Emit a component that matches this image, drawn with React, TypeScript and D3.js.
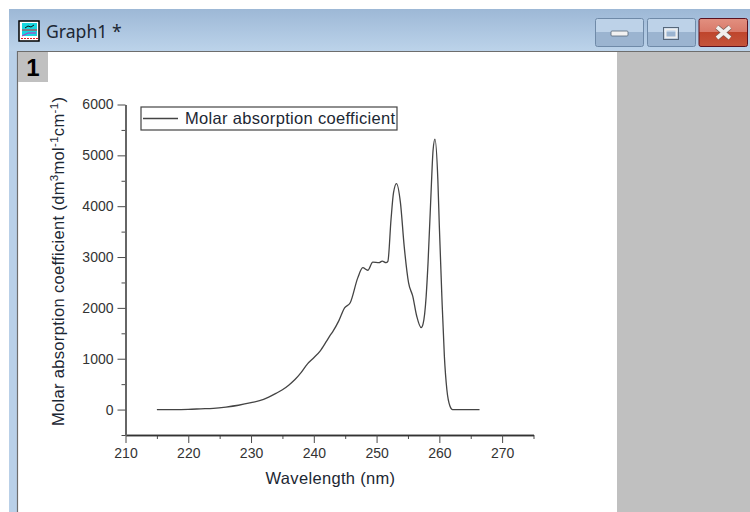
import React, {useEffect, useRef} from 'react'
import * as d3 from 'd3'

const wavelengths = [
  215, 218, 220, 222, 224, 226, 228, 230, 232, 234, 235, 236, 237, 238, 239, 240, 241, 242, 242.5,
  243, 244, 244.9, 245.8, 247, 247.8, 248.6, 249.4, 250.4, 250.9, 251.5, 251.8, 252.3, 252.7,
  253.17, 253.8, 254.4, 255.1, 255.76, 256.4, 257.1, 257.4, 257.9, 258.2, 258.7, 259, 259.3,
  259.76, 260, 260.4, 260.8, 261.2, 261.7, 262.1, 263, 266.4,
]
const absorption = [
  0, 0, 5, 15, 25, 50, 85, 135, 200, 320, 390, 480, 590, 730, 900, 1020, 1150, 1340, 1440,
  1530, 1750, 2000, 2100, 2590, 2790, 2740, 2900, 2890, 2920, 2890, 2917, 3738, 4265,
  4445, 4070, 3210, 2490, 2230, 1835, 1610, 1680, 2230, 2890, 4330, 5100, 5320,
  4525, 3600, 2230, 1050, 390, 65, 0, 0, 0,
]
const xMajor = [210, 220, 230, 240, 250, 260, 270]
const xMinor = [215, 225, 235, 245, 255, 265, 275]
const yMajor = [0, 1000, 2000, 3000, 4000, 5000, 6000]
const yMinor = [-500, 500, 1500, 2500, 3500, 4500, 5500]
const legendLabel = 'Molar absorption coefficient'
const xTitle = 'Wavelength (nm)'
const windowTitle = 'Graph1 *'

const font = '"Liberation Sans", Arial, sans-serif'
const axisColor = '#4a4a4a'
const textSpacing = 0.32

export default function App() {
  const xRef = useRef<SVGGElement>(null)
  const yRef = useRef<SVGGElement>(null)

  const x = d3.scaleLinear().domain([210, 275]).range([125.5, 533.5])
  const y = d3.scaleLinear().domain([-500, 6000]).range([435, 104.5])

  const line = d3
    .line<number>()
    .x((d) => x(d))
    .y((_, i) => y(absorption[i]))
    .curve(d3.curveMonotoneX)

  useEffect(() => {
    const xAxis = d3.select(xRef.current)
    const yAxis = d3.select(yRef.current)
    xAxis.selectAll('*').remove()
    yAxis.selectAll('*').remove()

    xAxis.append('g').call(d3.axisBottom(x).tickValues(xMinor).tickSize(4).tickSizeOuter(0).tickFormat(() => ''))
    xAxis.append('g').call(d3.axisBottom(x).tickValues(xMajor).tickSize(8).tickSizeOuter(0).tickPadding(5).tickFormat(d3.format('d')))
    yAxis.append('g').call(d3.axisLeft(y).tickValues(yMinor).tickSize(4).tickSizeOuter(0).tickFormat(() => ''))
    yAxis.append('g').call(d3.axisLeft(y).tickValues(yMajor).tickSize(8).tickSizeOuter(0).tickPadding(4).tickFormat(d3.format('d')))

    for (const axis of [xAxis, yAxis]) {
      axis.selectAll('line').attr('stroke', axisColor)
      axis.selectAll('text').attr('font-family', font).attr('font-size', 14).attr('fill', '#333')
    }
    xAxis.selectAll('.domain').attr('stroke', '#333').attr('stroke-width', 1.3)
    yAxis.selectAll('.domain').attr('stroke', '#666').attr('stroke-width', 2)
  }, [])

  return (
    <svg width={750} height={512} style={{position: 'fixed', left: 0, top: 0}}>
      <defs>
        <linearGradient id="bar" x1="0" y1="0" x2="0" y2="1">
          <stop offset="0" stopColor="#9db8d6" />
          <stop offset="1" stopColor="#bcd3ea" />
        </linearGradient>
        <linearGradient id="btn" x1="0" y1="0" x2="0" y2="1">
          <stop offset="0.5" stopColor="#bdd2e8" />
          <stop offset="0.5" stopColor="#9bb4d0" />
        </linearGradient>
        <linearGradient id="close" x1="0" y1="0" x2="0" y2="1">
          <stop offset="0" stopColor="#e29080" />
          <stop offset="0.5" stopColor="#d87868" />
          <stop offset="0.5" stopColor="#bf452c" />
          <stop offset="1" stopColor="#c4553c" />
        </linearGradient>
      </defs>

      <rect x={0} y={0} width={750} height={512} fill="#fff" />
      <rect x={9} y={9} width={741} height={503} fill="#b9d0e8" />
      <rect x={9} y={9} width={741} height={42} fill="url(#bar)" />
      <rect x={17} y={51} width={733} height={461} fill="#fff" />
      <rect x={617} y={52} width={133} height={460} fill="#c0c0c0" />
      <path d="M17.5,512V51.5H750" fill="none" stroke="#6d6d6d" strokeWidth={1.2} />

      <rect x={19} y={21} width={20} height={20} fill="#fff" stroke="#000" strokeWidth={1.5} />
      <rect x={22} y={23} width={15} height={13} fill="#19d6e0" />
      <path d="M22,30H37" stroke="#e0202a" strokeWidth={1} />
      <path d="M22,36L28,33H36" stroke="#d020c0" fill="none" strokeWidth={1} />
      <path d="M25,28L28,26L31,27L34,25" stroke="#111" fill="none" strokeWidth={1} />
      <path d="M21,38.5H38" stroke="#e0202a" strokeWidth={1} strokeDasharray="2 1" />
      <text x={46} y={38} fontFamily="'Noto Sans', sans-serif" fontSize={17.6} fill="#1c2733">
        {windowTitle}
      </text>

      <rect x={595.5} y={18.5} width={48} height={28} rx={2} fill="url(#btn)" stroke="#6f8aa8" />
      <rect x={611} y={31} width={17} height={5} rx={1} fill="#f2f2f2" stroke="#56677a" strokeWidth={0.8} />
      <rect x={647.5} y={18.5} width={48} height={28} rx={2} fill="url(#btn)" stroke="#6f8aa8" />
      <rect x={663.5} y={27.5} width={15} height={12} fill="none" stroke="#56677a" strokeWidth={1} />
      <rect x={665.5} y={29.5} width={11} height={8} fill="none" stroke="#eee" strokeWidth={2} />
      <rect x={699} y={18.5} width={48.5} height={28} rx={2} fill="url(#close)" stroke="#5a1220" />
      <path d="M717,27L730,38M730,27L717,38" stroke="#7a5a52" strokeWidth={5.2} />
      <path d="M717,27L730,38M730,27L717,38" stroke="#f2f0ee" strokeWidth={3.8} />

      <rect x={18} y={52} width={30} height={30} fill="#c0c0c0" />
      <text x={33} y={76} textAnchor="middle" fontFamily={font} fontWeight="bold" fontSize={24} fill="#000">
        1
      </text>

      <g ref={xRef} transform="translate(0,435)" />
      <g ref={yRef} transform="translate(125.5,0)" />

      <path d={line(wavelengths) ?? ''} fill="none" stroke="#444" strokeWidth={1.3} />

      <rect x={141} y={107} width={256} height={23} fill="#fff" stroke="#444" strokeWidth={1.2} />
      <line x1={143} x2={178} y1={118.5} y2={118.5} stroke="#444" strokeWidth={1.3} />
      <text x={185} y={124} fontFamily={font} fontSize={16.5} letterSpacing={textSpacing} fill="#1c2733">
        {legendLabel}
      </text>

      <text x={330.5} y={484} textAnchor="middle" fontFamily={font} fontSize={16.5} letterSpacing={textSpacing} fill="#1c2733">
        {xTitle}
      </text>
      <text
        transform="translate(64,426) rotate(-90)"
        fontFamily={font}
        fontSize={16.5}
        letterSpacing={textSpacing}
        fill="#1c2733"
      >
        Molar absorption coefficient (dm
        <tspan dy={-6} fontSize={11.5}>3</tspan>
        <tspan dy={6}>mol</tspan>
        <tspan dy={-6} fontSize={11.5}>-1</tspan>
        <tspan dy={6}>cm</tspan>
        <tspan dy={-6} fontSize={11.5}>-1</tspan>
        <tspan dy={6}>)</tspan>
      </text>
    </svg>
  )
}
